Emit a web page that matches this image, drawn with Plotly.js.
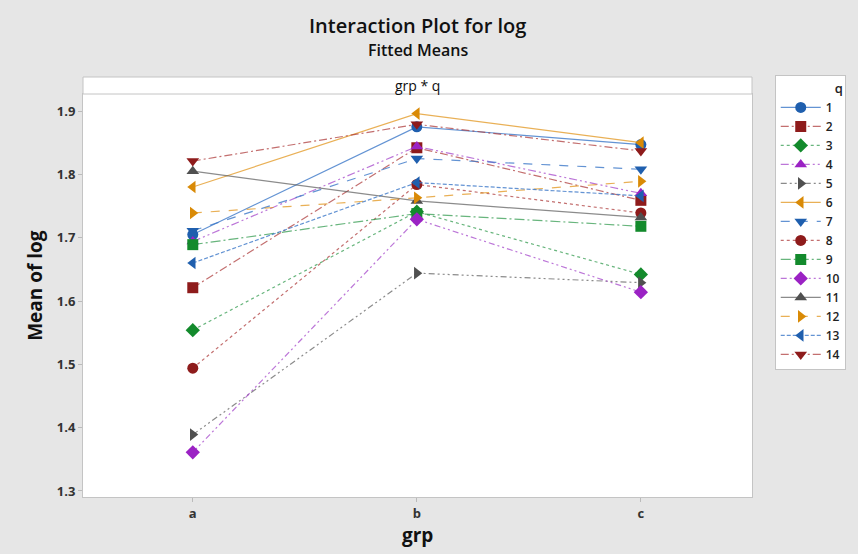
<!DOCTYPE html>
<html>
<head>
<meta charset="utf-8">
<script src="https://cdn.plot.ly/plotly-3.0.1.min.js"></script>
<style>html,body{margin:0;padding:0;background:#e6e6e6;}#chart{width:858px;height:554px;}</style>
</head>
<body>
<div id="chart"></div>
<script>
// ---- data ----
const groups = ['a', 'b', 'c'];
const qLevels = ['1','2','3','4','5','6','7','8','9','10','11','12','13','14'];
const meanA = [1.705, 1.621, 1.554, 1.694, 1.389, 1.780, 1.711, 1.494, 1.689, 1.361, 1.805, 1.739, 1.660, 1.821];
const meanB = [1.875, 1.842, 1.741, 1.844, 1.644, 1.896, 1.825, 1.784, 1.738, 1.729, 1.758, 1.763, 1.787, 1.879];
const meanC = [1.847, 1.759, 1.642, 1.770, 1.629, 1.850, 1.808, 1.739, 1.718, 1.614, 1.732, 1.789, 1.766, 1.837];

// ---- styles ----
const markerColors = ['#1f5fae','#8e1b1b','#138a2c','#9b22c4','#505050','#d98a06'];
const lineColors = ['rgba(60,120,200,0.8)','rgba(170,50,50,0.7)','rgba(40,150,70,0.7)','rgba(160,60,200,0.7)','rgba(90,90,90,0.7)','rgba(225,150,30,0.75)'];
const symbols = ['circle','square','diamond','triangle-up','triangle-right','triangle-left','triangle-down'];
const dashes = ['solid','8px,3px,2px,3px','dot','8px,3px,2px,3px,2px,3px','6px,3px,2px,3px,2px,3px,2px,3px',
                'solid','dash','dot','10px,3px,2px,3px','6px,3px,2px,3px,2px,3px',
                'solid','dash','4px,2px','8px,3px,2px,3px'];

const traces = qLevels.map((q, i) => ({
  type: 'scatter',
  mode: 'lines+markers',
  name: q,
  x: groups,
  y: [meanA[i], meanB[i], meanC[i]],
  line: {color: lineColors[i % 6], width: 1.2, dash: dashes[i]},
  marker: {color: markerColors[i % 6], symbol: symbols[i % 7], size: 11, line: {width: 0}}
}));

const F = 'Open Sans, Noto Sans, sans-serif';
const layout = {
  width: 858, height: 554,
  paper_bgcolor: '#e6e6e6',
  plot_bgcolor: '#ffffff',
  margin: {l: 83, r: 106, t: 94, b: 57},
  font: {family: F, color: '#222'},
  showlegend: true,
  xaxis: {
    type: 'category', range: [-0.49, 2.496],
    showgrid: false, zeroline: false,
    showline: true, mirror: true, linecolor: '#c4c4c4', linewidth: 1,
    ticks: 'outside', ticklen: 4, tickcolor: '#bbbbbb',
    tickfont: {family: F, size: 13, weight: 700, color: '#333'}
  },
  yaxis: {
    range: [1.2905, 1.9269],
    tickvals: [1.3, 1.4, 1.5, 1.6, 1.7, 1.8, 1.9],
    ticktext: ['1.3','1.4','1.5','1.6','1.7','1.8','1.9'],
    showgrid: false, zeroline: false,
    showline: true, mirror: true, linecolor: '#c4c4c4', linewidth: 1,
    ticks: 'outside', ticklen: 4, tickcolor: '#bbbbbb',
    tickfont: {family: F, size: 13, weight: 700, color: '#333'}
  },
  legend: {
    x: 1.034, xanchor: 'left', y: 1.047, yanchor: 'top',
    bgcolor: '#ffffff', bordercolor: '#c4c4c4', borderwidth: 1,
    font: {family: F, size: 12, weight: 600, color: '#222'},
    itemwidth: 40, maxheight: 470,
    title: {text: 'q', side: 'top right', font: {family: F, size: 13, weight: 600, color: '#222'}}
  },
  shapes: [{
    type: 'rect', xref: 'paper', yref: 'paper',
    x0: 0, x1: 1, y0: 1, y1: 1 + 17/403,
    fillcolor: '#ffffff', line: {color: '#c4c4c4', width: 1}
  }],
  annotations: [
    {text: 'Interaction Plot for log', xref: 'paper', yref: 'paper', x: 0.5, y: (497-26)/403,
     xanchor: 'center', yanchor: 'middle', showarrow: false,
     font: {family: F, size: 20, weight: 600, color: '#111'}},
    {text: 'Fitted Means', xref: 'paper', yref: 'paper', x: 0.5, y: (497-50)/403,
     xanchor: 'center', yanchor: 'middle', showarrow: false,
     font: {family: F, size: 16, weight: 600, color: '#111'}},
    {text: 'grp * q', xref: 'paper', yref: 'paper', x: 0.5, y: 1 + 8.5/403,
     xanchor: 'center', yanchor: 'middle', showarrow: false,
     font: {family: F, size: 14, color: '#111'}},
    {text: 'Mean of log', xref: 'paper', yref: 'paper', x: -0.072, y: (497-285)/403,
     xanchor: 'center', yanchor: 'middle', showarrow: false, textangle: -90,
     font: {family: F, size: 19, weight: 700, color: '#111'}},
    {text: 'grp', xref: 'paper', yref: 'paper', x: 0.5, y: -0.094,
     xanchor: 'center', yanchor: 'middle', showarrow: false,
     font: {family: F, size: 19, weight: 700, color: '#111'}}
  ]
};

Plotly.newPlot('chart', traces, layout, {displayModeBar: false, staticPlot: true});
</script>
</body>
</html>
